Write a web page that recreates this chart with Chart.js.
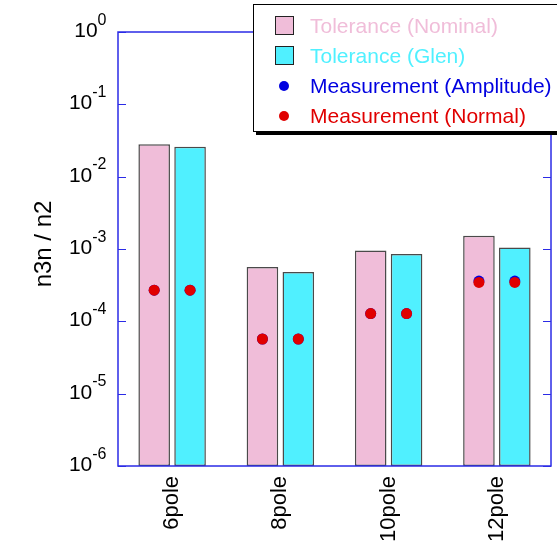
<!DOCTYPE html>
<html>
<head>
<meta charset="utf-8">
<script src="https://cdn.jsdelivr.net/npm/chart.js@4/dist/chart.umd.min.js"></script>
<style>
  html, body { margin: 0; padding: 0; background: #fff; overflow: hidden; }
  #wrap { position: relative; width: 557px; height: 546px; }
  #key {
    position: absolute; left: 253px; top: 4px; width: 330px; height: 126px;
    border: 1px solid #000; box-shadow: 3px 3px 0 #000; background: #fff;
    font-family: "Liberation Sans", Arial, sans-serif; font-size: 21px;
  }
  #key .row { position: absolute; left: 0; height: 30px; line-height: 30px; white-space: nowrap; }
  #key .box { position: absolute; left: 21px; top: 5.5px; width: 19px; height: 19px; box-sizing: border-box; border: 1.5px solid #222; }
  #key .dot { position: absolute; left: 25px; top: 10px; width: 10px; height: 10px; border-radius: 50%; }
  #key .txt { position: absolute; left: 56px; top: 0; }
</style>
</head>
<body>
<div id="wrap">
  <canvas id="c" width="557" height="546"></canvas>
  <div id="key"></div>
</div>
<script>
// Multipole field ratios per harmonic
const categories = ['6pole', '8pole', '10pole', '12pole'];
const toleranceNominal = [0.028, 5.65e-4, 9.5e-4, 1.52e-3];
const toleranceGlen = [0.026, 4.82e-4, 8.55e-4, 1.05e-3];
const measurementAmplitude = [2.7e-4, 5.7e-5, 1.28e-4, 3.6e-4];
const measurementNormal = [2.7e-4, 5.7e-5, 1.28e-4, 3.45e-4];
const yTickExponents = [0, -1, -2, -3, -4, -5, -6];

const FONT = '"Liberation Sans", Arial, sans-serif';
const AXIS_BLUE = '#2b2be6';
const PINK = '#f0bdd9';
const CYAN = '#50f0ff';
const BLUE = '#0000e0';
const RED = '#e00000';

function barSet(label, values, color) {
  return {
    label, data: values, id: label,
    backgroundColor: color, borderColor: '#4a4a4a', borderWidth: 1.5,
    borderSkipped: false, categoryPercentage: 0.663, barPercentage: 0.88,
    order: 3, keyKind: 'box'
  };
}

// A measurement marker set, pinned to the bars of the named tolerance series
function pointSet(label, values, color, anchorLabel, order) {
  return {
    type: 'line', label, data: values, showLine: false,
    pointRadius: 5.5, pointHoverRadius: 5.5, pointBorderWidth: 0,
    backgroundColor: color, borderColor: color,
    order, barAnchor: anchorLabel, keyKind: 'dot'
  };
}

const barsNominal = barSet('Tolerance (Nominal)', toleranceNominal, PINK);
const barsGlen = barSet('Tolerance (Glen)', toleranceGlen, CYAN);

// Moves each measurement marker onto the centre of the bar it belongs to
const anchorPlugin = {
  id: 'anchorToBars',
  afterDatasetsUpdate(chart) {
    const sets = chart.data.datasets;
    sets.forEach((ds, di) => {
      if (ds.barAnchor === undefined) return;
      const bi = sets.findIndex(d => d.id === ds.barAnchor);
      const bars = chart.getDatasetMeta(bi).data;
      chart.getDatasetMeta(di).data.forEach((pt, i) => { pt.x = bars[i].x; });
    });
  }
};

// Blue frame, inward decade ticks, power-of-ten labels and axis title
const framePlugin = {
  id: 'frame',
  afterDatasetsDraw(chart) {
    const { ctx, chartArea: a, scales: { y } } = chart;
    ctx.save();
    ctx.strokeStyle = AXIS_BLUE;
    ctx.lineWidth = 1.5;
    ctx.strokeRect(a.left, a.top, a.right - a.left, a.bottom - a.top);
    ctx.beginPath();
    yTickExponents.forEach(e => {
      const py = Math.round(y.getPixelForValue(Math.pow(10, e))) + 0.5;
      ctx.moveTo(a.left, py); ctx.lineTo(a.left + 8, py);
      ctx.moveTo(a.right, py); ctx.lineTo(a.right - 8, py);
    });
    ctx.lineWidth = 1.2;
    ctx.stroke();

    ctx.fillStyle = '#000';
    const rightEdge = 106.5;
    yTickExponents.forEach(e => {
      const py = y.getPixelForValue(Math.pow(10, e));
      const exp = String(e);
      ctx.font = '16px ' + FONT;
      const ew = ctx.measureText(exp).width;
      ctx.textAlign = 'left';
      ctx.textBaseline = 'alphabetic';
      ctx.fillText(exp, rightEdge - ew, py - 7.5);
      ctx.font = '21px ' + FONT;
      ctx.textAlign = 'right';
      ctx.fillText('10', rightEdge - ew, py + 5);
    });

    ctx.translate(51, 244);
    ctx.rotate(-Math.PI / 2);
    ctx.font = '24px ' + FONT;
    ctx.textAlign = 'center';
    ctx.textBaseline = 'alphabetic';
    ctx.fillText('n3n / n2', 0, 0);
    ctx.restore();
  }
};

const chart = new Chart(document.getElementById('c'), {
  type: 'bar',
  data: {
    labels: categories,
    datasets: [
      pointSet('Measurement (Normal)', measurementNormal, RED, barsNominal.id, 1),
      pointSet('Measurement (Normal)', measurementNormal, RED, barsGlen.id, 1),
      pointSet('Measurement (Amplitude)', measurementAmplitude, BLUE, barsNominal.id, 2),
      pointSet('Measurement (Amplitude)', measurementAmplitude, BLUE, barsGlen.id, 2),
      barsNominal,
      barsGlen
    ]
  },
  options: {
    responsive: false,
    animation: false,
    events: [],
    layout: { padding: { top: 32, right: 6, left: 0, bottom: 0 } },
    plugins: { legend: { display: false }, tooltip: { enabled: false } },
    scales: {
      x: {
        grid: { display: false, drawTicks: false },
        border: { display: false },
        ticks: {
          color: '#000', font: { family: FONT, size: 22 },
          minRotation: 90, maxRotation: 90, padding: 10
        },
        afterFit(s) { s.height = 80; }
      },
      y: {
        type: 'logarithmic', min: 1e-6, max: 1,
        grid: { display: false, drawTicks: false },
        border: { display: false },
        ticks: { display: false },
        afterFit(s) { s.width = 118; }
      }
    }
  },
  plugins: [anchorPlugin, framePlugin]
});

// Key box, listed in the same order as the series are introduced
const key = document.getElementById('key');
const keyOrder = ['Tolerance (Nominal)', 'Tolerance (Glen)', 'Measurement (Amplitude)', 'Measurement (Normal)'];
keyOrder.forEach((name, i) => {
  const ds = chart.data.datasets.find(d => d.label === name);
  const row = document.createElement('div');
  row.className = 'row';
  row.style.top = (5.5 + 30 * i) + 'px';
  const mark = document.createElement('div');
  mark.className = ds.keyKind;
  mark.style.background = ds.backgroundColor;
  const txt = document.createElement('span');
  txt.className = 'txt';
  txt.textContent = ds.label;
  txt.style.color = ds.backgroundColor;
  row.appendChild(mark);
  row.appendChild(txt);
  key.appendChild(row);
});
</script>
</body>
</html>
